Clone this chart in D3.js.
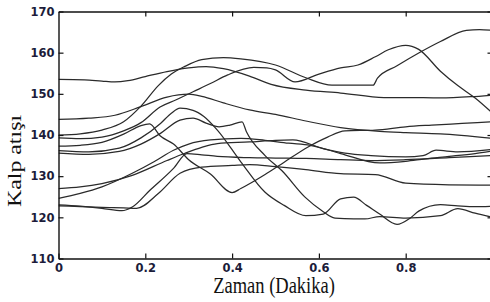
<!DOCTYPE html>
<html>
<head>
<meta charset="utf-8">
<script src="https://cdn.jsdelivr.net/npm/d3@7"></script>
<style>
  html, body { margin: 0; padding: 0; background: #fff; }
  svg { display: block; }
</style>
</head>
<body>
<svg id="chart" width="490" height="302"></svg>
<script>
// ---- data (x = time in minutes, y = heart rate) ----
const xTickValues = [0, 0.2, 0.4, 0.6, 0.8];
const xTickLabels = ["0", "0.2", "0.4", "0.6", "0.8"];
const yTickValues = [110, 120, 130, 140, 150, 160, 170];
const yTickLabels = ["110", "120", "130", "140", "150", "160", "170"];
const xTitle = "Zaman (Dakika)";
const yTitle = "Kalp atışı";

const seriesA = [[0,153.5],[0.06,153.4],[0.1,153.1],[0.13,152.9],[0.16,153.2],[0.2,154.2],[0.25,155.4],[0.3,156.3],[0.34,156.6],[0.38,156.1],[0.44,154.3],[0.49,152.3],[0.57,150.9],[0.65,150.2],[0.75,149.1],[0.8,149.1],[0.88,149],[0.95,149.3],[1,149.7]];
const seriesB = [[0,140],[0.05,140.3],[0.1,141.2],[0.15,143.2],[0.19,147],[0.23,152],[0.26,154.8],[0.29,156.6],[0.33,158.3],[0.38,158.8],[0.42,158.5],[0.5,157],[0.57,153.9],[0.63,152.1],[0.725,152.1],[0.735,153.8],[0.78,156.8],[0.83,159.9],[0.88,162.7],[0.94,165.4],[0.97,165.6],[1,165.4]];
const seriesS = [[0,139.3],[0.05,139.1],[0.1,139.5],[0.15,141],[0.19,143],[0.234,146.8],[0.27,148.5],[0.31,150.5],[0.35,152.5],[0.39,154.6],[0.45,156.4],[0.48,156.3],[0.5,155.8],[0.545,152.9],[0.6,154.8],[0.65,156.3],[0.69,157],[0.73,159],[0.76,160.7],[0.8,161.8],[0.83,160.8],[0.88,155.5],[0.92,152],[0.96,149],[1,145.3]];
const seriesH = [[0,143.8],[0.07,144.1],[0.13,144.8],[0.19,146.9],[0.25,149.2],[0.3,149.9],[0.33,149.4],[0.38,147.8],[0.44,146.1],[0.5,145],[0.57,143.4],[0.65,141.8],[0.74,140.9],[0.8,140.6],[0.88,140.3],[1,139.2]];
const seriesE = [[0,137.3],[0.05,137.5],[0.1,138.2],[0.15,140.2],[0.19,142.3],[0.21,142.7],[0.234,139.8],[0.265,137.8],[0.3,134],[0.35,130.5],[0.4,126],[0.42,127],[0.476,130.4],[0.52,133.4],[0.575,137.1],[0.62,139.5],[0.66,141],[0.73,141.2],[0.8,142],[0.86,142.4],[0.93,142.8],[1,143.2]];
const seriesP1 = [[0,136.2],[0.07,135.9],[0.14,136.8],[0.19,139.3],[0.235,142.8],[0.26,145.3],[0.28,146.5],[0.31,146],[0.335,144.5],[0.366,141.2],[0.42,133.5],[0.476,126.1],[0.52,122.9],[0.57,120.4],[0.61,120.8],[0.65,124.5],[0.68,124.9],[0.71,122.9],[0.74,120.8],[0.78,118.3],[0.81,119.8],[0.83,121.5],[0.88,123.1],[0.92,122.8],[0.96,122.6],[1,122.7]];
const seriesP2 = [[0,135.6],[0.07,135.3],[0.14,136],[0.19,137.8],[0.235,140.4],[0.28,143.6],[0.31,144.1],[0.34,142.9],[0.37,142],[0.395,142.4],[0.423,143.2],[0.433,140.8],[0.476,135],[0.515,131.3],[0.568,124.9],[0.607,121.6],[0.637,119.8],[0.68,119.6],[0.706,119.6],[0.74,120.2],[0.8,119.8],[0.88,120.4],[0.92,122.1],[0.96,121],[1,120]];
const seriesL8 = [[0,127],[0.05,127.4],[0.1,128.2],[0.17,130.2],[0.25,133.8],[0.29,135.5],[0.33,137],[0.366,137.9],[0.44,138.3],[0.5,138.7],[0.54,138.8],[0.61,136.7],[0.66,135.6],[0.72,135],[0.8,134.7],[0.84,135],[0.87,136.3],[0.92,135.9],[1,136.5]];
const seriesL9 = [[0,124.6],[0.05,125.8],[0.1,127.4],[0.17,130.7],[0.22,133.5],[0.265,136.3],[0.3,137.8],[0.35,138.8],[0.42,139.2],[0.476,138.7],[0.53,138],[0.58,137.5],[0.65,135.5],[0.74,133.2],[0.8,133.6],[0.845,134.2],[0.9,134.8],[0.96,135.5],[1,136.1]];
const seriesL10 = [[0,123],[0.05,122.7],[0.1,122.2],[0.146,121.6],[0.17,122.5],[0.21,126.5],[0.265,131.9],[0.296,135.5],[0.33,135.2],[0.366,134.8],[0.44,134.5],[0.5,134.4],[0.57,134.3],[0.65,134],[0.72,133.8],[0.8,134],[0.9,134.5],[1,135]];
const seriesL11 = [[0,122.8],[0.05,122.6],[0.1,122.4],[0.15,122.3],[0.18,122.2],[0.23,125.8],[0.28,130.7],[0.33,132.2],[0.4,132.6],[0.44,132.8],[0.5,132.3],[0.57,131.6],[0.65,130.6],[0.73,130.4],[0.8,128.3],[0.9,127.9],[1,127.8]];

const allSeries = [seriesA, seriesB, seriesS, seriesH, seriesE, seriesP1, seriesP2, seriesL8, seriesL9, seriesL10, seriesL11];

// ---- layout ----
const svg = d3.select("#chart");
const plotLeft = 58.5, plotRight = 492.5, plotTop = 11.5, plotBottom = 258.5;

const x = d3.scaleLinear().domain([0, 1]).range([plotLeft, plotRight]);
const y = d3.scaleLinear().domain([110, 170]).range([plotBottom, plotTop]);

svg.append("rect").attr("width", 490).attr("height", 302).attr("fill", "#fff");

// lines
const line = d3.line()
  .x(d => x(d[0]))
  .y(d => y(d[1]))
  .curve(d3.curveMonotoneX);

svg.append("defs").append("clipPath").attr("id", "plotclip")
  .append("rect").attr("x", plotLeft).attr("y", plotTop)
  .attr("width", plotRight - plotLeft).attr("height", plotBottom - plotTop);

svg.append("g").attr("clip-path", "url(#plotclip)")
  .selectAll("path")
  .data(allSeries)
  .join("path")
  .attr("d", line)
  .attr("fill", "none")
  .attr("stroke", "#2b2b2b")
  .attr("stroke-width", 1.25)
  .attr("stroke-linejoin", "round");

// axes
const tickFont = "DejaVu Sans, Verdana, sans-serif";
const labelColor = "#1c1c3a";

const xAxis = d3.axisBottom(x)
  .tickValues(xTickValues)
  .tickFormat((d, i) => xTickLabels[i])
  .tickSizeInner(-5).tickSizeOuter(0).tickPadding(5);
const gx = svg.append("g").attr("transform", `translate(0,${plotBottom})`).call(xAxis);

const yAxis = d3.axisLeft(y)
  .tickValues(yTickValues)
  .tickFormat((d, i) => yTickLabels[i])
  .tickSizeInner(-5).tickSizeOuter(0).tickPadding(4);
const gy = svg.append("g").attr("transform", `translate(${plotLeft},0)`).call(yAxis);

const xTop = d3.axisTop(x).tickValues(xTickValues.slice(1)).tickFormat("")
  .tickSizeInner(-5).tickSizeOuter(0);
const gt = svg.append("g").attr("transform", `translate(0,${plotTop})`).call(xTop);

const yRight = d3.axisRight(y).tickValues(yTickValues).tickFormat("")
  .tickSizeInner(-5).tickSizeOuter(0);
const gr = svg.append("g").attr("transform", `translate(${plotRight},0)`).call(yRight);

[gx, gy, gt, gr].forEach(g => {
  g.select(".domain").attr("stroke", "#111").attr("stroke-width", 1.4);
  g.selectAll(".tick line").attr("stroke", "#111").attr("stroke-width", 1.2);
  g.selectAll("text")
    .attr("font-family", tickFont)
    .attr("font-size", 11.5)
    .attr("font-weight", "bold")
    .attr("fill", labelColor);
});

// axis titles
svg.append("text")
  .attr("transform", "translate(274,293) scale(1,1.2)")
  .attr("text-anchor", "middle")
  .attr("font-family", "Liberation Serif, Times New Roman, serif")
  .attr("font-size", 18.5)
  .attr("fill", "#111")
  .text(xTitle);

svg.append("text")
  .attr("transform", "translate(20.5,161) rotate(-90) scale(1.29,1)")
  .attr("text-anchor", "middle")
  .attr("font-family", "Liberation Serif, Times New Roman, serif")
  .attr("font-size", 18.5)
  .attr("fill", "#111")
  .text(yTitle);
</script>
</body>
</html>
